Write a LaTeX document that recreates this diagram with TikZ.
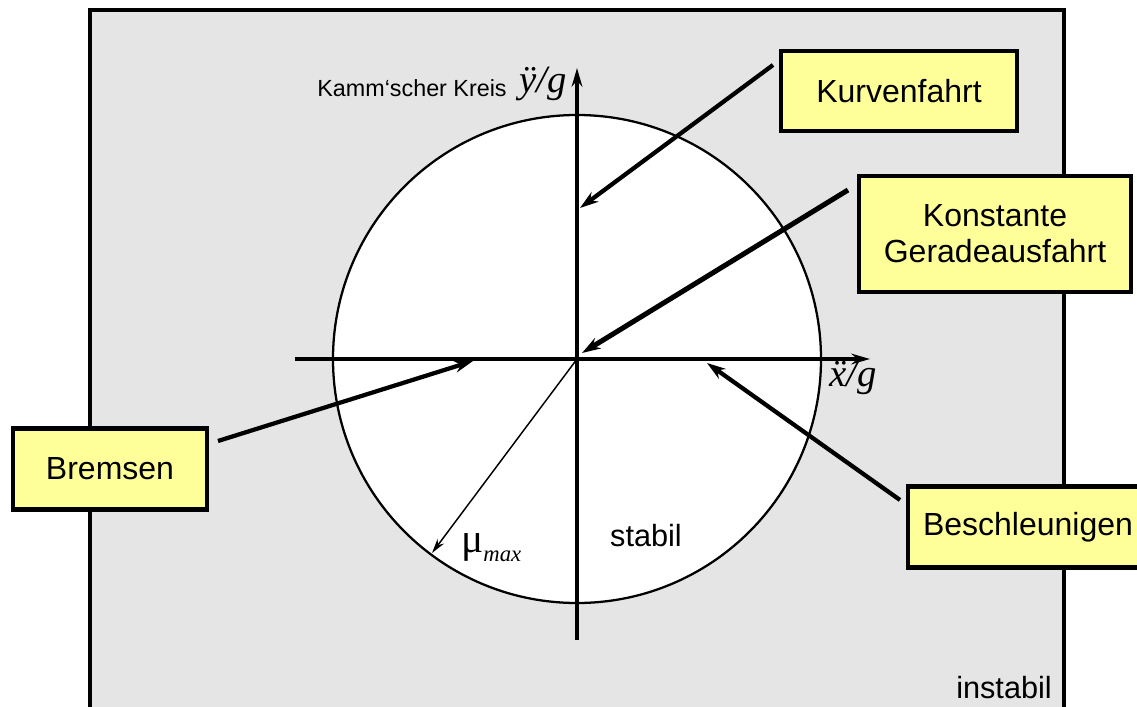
\documentclass[tikz,border=0pt]{standalone}
\usepackage{fontspec}
\setmainfont{Liberation Sans}
\newfontfamily\tms{Liberation Serif}
\usetikzlibrary{arrows.meta}
\definecolor{bggray}{HTML}{E5E5E5}
\definecolor{boxyellow}{HTML}{FFFF99}
\tikzset{
  lbox/.style={draw=black,line width=3.6pt,fill=boxyellow,inner sep=0pt,font=\fontsize{24}{27}\selectfont,align=center},
  pointer/.style={line width=3.2pt,-{Stealth[length=14pt,width=9pt]}},
  axis/.style={line width=2.6pt,-{Stealth[length=14pt,width=8pt]}},
  lbl/.style={inner sep=0pt}
}
\begin{document}
\begin{tikzpicture}[x=0.75pt,y=-0.75pt]
\useasboundingbox (0,0) rectangle (1137,706);
% background frame
\fill[bggray] (90,10) rectangle (1064,720);
\draw[line width=3.2pt] (90,720) -- (90,10) -- (1064,10) -- (1064,720);
% circle
\coordinate (O) at (577,359);
\fill[white] (O) circle[radius=244];
\draw[line width=1.7pt] (O) circle[radius=244];
% axes
\coordinate (xl) at (295,359);
\coordinate (xr) at (870,359);
\coordinate (yb) at (577,640);
\coordinate (yt) at (577,68);
\draw[axis] (xl) -- (xr);
\draw[axis] (yb) -- (yt);
% mu max
\coordinate (mu) at (432,553);
\draw[line width=1.1pt,-{Stealth[length=11pt,width=6pt]}] (O) -- (mu);
% labels
\node[lbl,font=\fontsize{17.5}{20}\selectfont] (kamm) at (412,88) {Kamm‘scher Kreis};
\node[lbl,font=\tms\itshape\fontsize{29}{32}\selectfont] (ylab) at (543,84) {ÿ/g};
\node[lbl,font=\tms\itshape\fontsize{29}{32}\selectfont] (xlab) at (853,378) {ẍ/g};
\node[lbl,anchor=base west] (mulab) at (461,552) {\tms\fontsize{31}{34}\selectfont μ\raisebox{-7pt}{\fontsize{17}{20}\itshape max}};
\node[lbl,font=\fontsize{23}{26}\selectfont] (stabil) at (646,536) {stabil};
\node[lbl,font=\fontsize{23}{26}\selectfont,anchor=east] (instabil) at (1052,688) {instabil};
% boxes
\node[lbox,minimum width=236pt*0.75,minimum height=80pt*0.75] (kurve) at (899,91) {Kurvenfahrt};
\node[lbox,minimum width=272pt*0.75,minimum height=116pt*0.75] (konst) at (995,234) {Konstante\\Geradeausfahrt};
\node[lbox,minimum width=194pt*0.75,minimum height=81pt*0.75] (brems) at (110,469) {Bremsen};
\node[lbox,minimum width=240pt*0.75,minimum height=81pt*0.75] (beschl) at (1028,527) {Beschleunigen};
% pointer arrows
\coordinate (t1) at (580,208);
\coordinate (t2) at (582,353);
\coordinate (t3) at (473,361);
\coordinate (t4) at (707,363);
\draw[pointer] (773,65) -- (t1);
\draw[pointer,line width=3.8pt] (848,190) -- (t2);
\draw[pointer] (218,441) -- (t3);
\draw[pointer] (900,500) -- (t4);
\end{tikzpicture}
\end{document}
